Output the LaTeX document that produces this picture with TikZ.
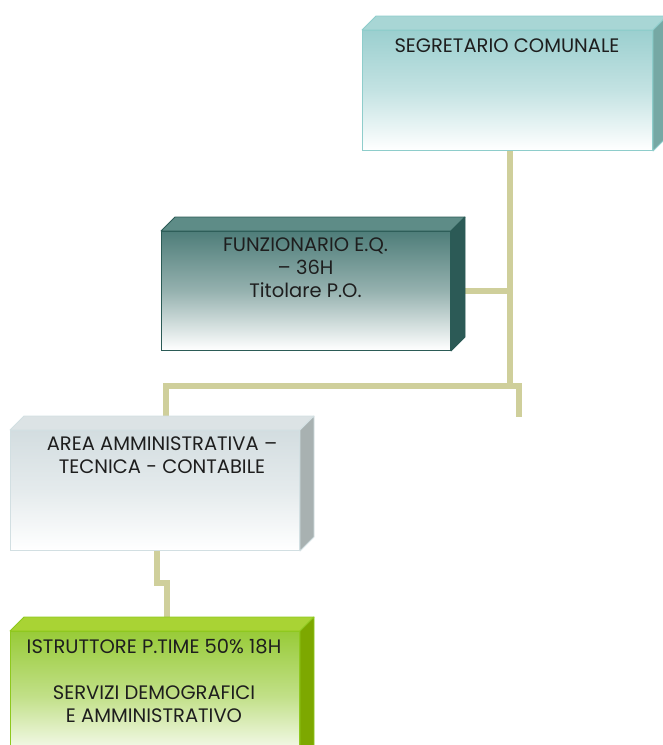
\documentclass[tikz,border=0pt]{standalone}
\usepackage{fontspec}
\setmainfont{Poppins}
\definecolor{connc}{HTML}{CFCF9B}
\definecolor{txtc}{HTML}{1E1E1E}
\definecolor{sFront}{HTML}{9BCFCF}
\definecolor{sBord}{HTML}{8ECDCB}
\definecolor{sTop}{HTML}{A8D6D5}
\definecolor{sSide}{HTML}{76A8A4}
\definecolor{fFront}{HTML}{4E7D79}
\definecolor{fBord}{HTML}{2B5B56}
\definecolor{fTop}{HTML}{5E8C87}
\definecolor{fSide}{HTML}{2C5A56}
\definecolor{aFront}{HTML}{D3DDE0}
\definecolor{aBord}{HTML}{D2DFE2}
\definecolor{aTop}{HTML}{DCE3E5}
\definecolor{aSide}{HTML}{A8B1B1}
\definecolor{iFront}{HTML}{98CB38}
\definecolor{iBord}{HTML}{8EC81E}
\definecolor{iTop}{HTML}{A9D334}
\definecolor{iSide}{HTML}{7DA800}
\tikzset{
  conn/.style={draw=connc, line width=6pt, line join=miter},
  lbl/.style={text=txtc, font=\fontsize{19.5}{23}\selectfont, align=center, inner sep=0pt},
}
% #1 name, #2 x, #3 y, #4 w, #5 h, #6 front colour, #7 border, #8 top face, #9 side face
\newcommand\drawcube[9]{%
  \shade[top color=#6, bottom color=white, middle color=#6!60!white] (#2,#3) rectangle ++(#4,#5);
  \node[draw=#7, line width=1pt, minimum width=#4pt, minimum height=#5pt,
        anchor=north west, inner sep=0pt] (#1) at (#2,#3) {};
  \filldraw[fill=#8, draw=#7, line width=0.8pt, line join=round]
     (#1.north west) -- ++(14,-14) -- ([shift={(14,-14)}]#1.north east) -- (#1.north east) -- cycle;
  \filldraw[fill=#9, draw=#7, line width=0.8pt, line join=round]
     (#1.north east) -- ++(14,-14) -- ([shift={(14,-14)}]#1.south east) -- (#1.south east) -- cycle;
}
\begin{document}
\begin{tikzpicture}[x=1pt, y=-1pt]
\useasboundingbox (0,0) rectangle (663,745);
% junction coordinates
\coordinate (j1) at (510,386);
\coordinate (j2) at (166,386);
\coordinate (j3) at (519,386);
\coordinate (e) at (519,417);
\coordinate (k) at (166.5,583);
% invisible placeholder nodes (connector ends), the boxes are drawn on top afterwards
\begin{scope}[opacity=0]
  \node[minimum width=290pt, minimum height=120pt, anchor=north west, inner sep=0pt] (s0) at (362,30) {};
  \node[minimum width=289pt, minimum height=119pt, anchor=north west, inner sep=0pt] (f0) at (161,231) {};
  \node[minimum width=289pt, minimum height=120pt, anchor=north west, inner sep=0pt] (a0) at (10,430) {};
  \node[minimum width=289pt, minimum height=130pt, anchor=north west, inner sep=0pt] (i0) at (10,631) {};
\end{scope}
% connectors
\draw[conn] (s0.south -| j1) -- (j1);
\draw[conn] (f0.east) -- (f0.east -| j1);
\draw[conn] (j2 |- a0.north) -- (j2) -- (j3) -- (e);
\draw[conn] ([xshift=-10pt]k |- a0.south) -- ([xshift=-10pt]k) -- (k) -- (k |- i0.north);
% boxes
\drawcube{s}{362}{30}{290}{120}{sFront}{sBord}{sTop}{sSide}
\drawcube{f}{161}{231}{289}{119}{fFront}{fBord}{fTop}{fSide}
\drawcube{a}{10}{430}{289}{120}{aFront}{aBord}{aTop}{aSide}
\drawcube{i}{10}{631}{289}{130}{iFront}{iBord}{iTop}{iSide}
% texts
\node[lbl] (st) at (507,46) {SEGRETARIO COMUNALE};
\node[lbl, anchor=north] (ft) at (305.5,238) {FUNZIONARIO E.Q.\\– 36H\\Titolare P.O.};
\node[lbl, anchor=north] (at) at (162,437) {AREA AMMINISTRATIVA –\\TECNICA - CONTABILE};
\node[lbl, anchor=north] (it) at (154,639) {ISTRUTTORE P.TIME 50\% 18H\\\strut\\SERVIZI DEMOGRAFICI\\E AMMINISTRATIVO};
\end{tikzpicture}
\end{document}
